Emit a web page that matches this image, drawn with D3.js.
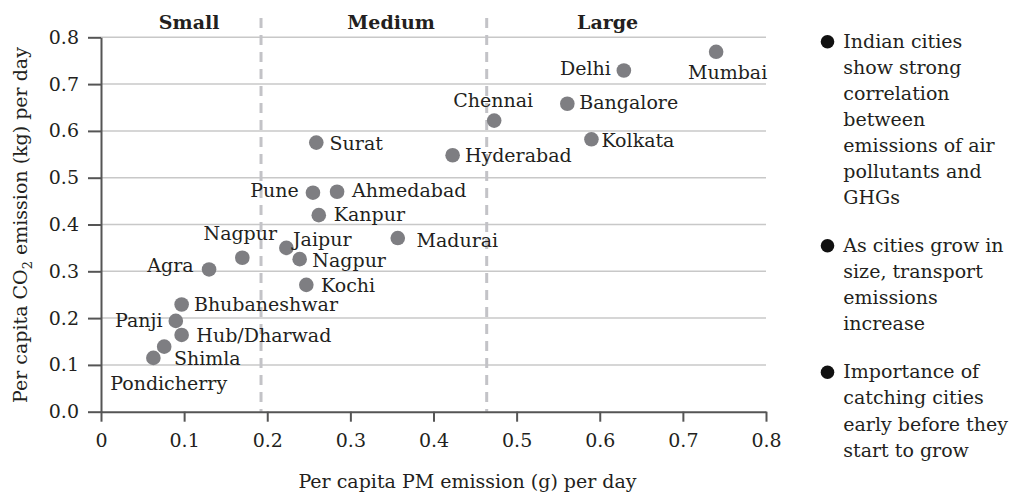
<!DOCTYPE html>
<html><head><meta charset="utf-8">
<script src="https://cdn.jsdelivr.net/npm/d3@7"></script>
<style>
html,body{margin:0;padding:0;background:#fff;}
svg{display:block;font-family:"DejaVu Serif",serif;}
</style></head>
<body><svg id="c" width="1009" height="492"></svg>
<script>
// ---- data ----
const cities = ["Mumbai","Delhi","Bangalore","Chennai","Kolkata","Hyderabad","Surat","Pune","Ahmedabad","Kanpur","Madurai","Nagpur","Jaipur","Nagpur","Kochi","Agra","Bhubaneshwar","Panji","Hub/Dharwad","Shimla","Pondicherry"];
const pmEmission = [0.740,0.629,0.561,0.473,0.590,0.423,0.259,0.255,0.284,0.262,0.357,0.170,0.223,0.239,0.247,0.130,0.097,0.090,0.097,0.076,0.063];
const co2Emission = [0.769,0.729,0.658,0.622,0.582,0.548,0.575,0.468,0.470,0.420,0.371,0.329,0.350,0.326,0.271,0.304,0.229,0.194,0.164,0.139,0.115];
const xTicks = [0,0.1,0.2,0.3,0.4,0.5,0.6,0.7,0.8];
const xTickLabels = ["0","0.1","0.2","0.3","0.4","0.5","0.6","0.7","0.8"];
const yTicks = [0,0.1,0.2,0.3,0.4,0.5,0.6,0.7,0.8];
const yTickLabels = ["0.0","0.1","0.2","0.3","0.4","0.5","0.6","0.7","0.8"];
const sizeClasses = ["Small","Medium","Large"];
const sizeBoundaries = [0.1925,0.464];
const bullets = [
  ["Indian cities","show strong","correlation","between","emissions of air","pollutants and","GHGs"],
  ["As cities grow in","size, transport","emissions","increase"],
  ["Importance of","catching cities","early before they","start to grow"]
];

// ---- layout (not data) ----
const labelLayout = [
  ["middle",11.5,27],["end",-13,4.5],["start",12,5.3],["middle",-1,-13.4],["start",10,7.4],
  ["start",12.3,6.4],["start",13.3,7.3],["end",-14.3,4],["start",15,5],["start",15,5.7],
  ["start",18.7,8.7],["middle",-2,-18],["start",6.6,-1.7],["start",12.7,7.4],["start",14.7,6.7],
  ["end",-15.4,2.4],["start",12.3,6.3],["end",-13.3,6],["start",14.7,6.7],["start",9.7,18.3],
  ["middle",15.3,32.3]
];
const classLabelX = [0.106,0.349,0.6095];

const FS = 19;
const TXT = "#231f20";
const svg = d3.select("#c");
const x = d3.scaleLinear().domain([0,0.8]).range([101,766]);
const y = d3.scaleLinear().domain([0,0.8]).range([411.7,37.3]);

// gridlines
svg.append("g").selectAll("line").data(yTicks.filter(d=>d>0)).join("line")
  .attr("x1",x(0)).attr("x2",x(0.8)).attr("y1",d=>y(d)).attr("y2",d=>y(d))
  .attr("stroke","#c8c8c8").attr("stroke-width",1.5);

// dashed size boundaries
svg.append("g").selectAll("line").data(sizeBoundaries).join("line")
  .attr("x1",d=>x(d)).attr("x2",d=>x(d)).attr("y1",18).attr("y2",y(0))
  .attr("stroke","#c3c3c7").attr("stroke-width",3).attr("stroke-dasharray","10,7");

// axes
const xAxis = d3.axisBottom(x).tickValues(xTicks).tickFormat((d,i)=>xTickLabels[i]).tickSizeInner(10).tickSizeOuter(0).tickPadding(12);
const gx = svg.append("g").attr("transform",`translate(0,${y(0)})`).call(xAxis);
const yAxis = d3.axisLeft(y).tickValues(yTicks).tickFormat((d,i)=>yTickLabels[i]).tickSizeInner(13).tickSizeOuter(0).tickPadding(9);
const gy = svg.append("g").attr("transform",`translate(${x(0)},0)`).call(yAxis);
[gx,gy].forEach(g=>{
  g.select(".domain").attr("stroke","#555").attr("stroke-width",2);
  g.selectAll(".tick line").attr("stroke","#555").attr("stroke-width",2);
  g.selectAll(".tick text").attr("fill",TXT).style("font-family","DejaVu Serif").style("font-size",FS+"px");
});

// class labels
svg.append("g").selectAll("text").data(sizeClasses).join("text")
  .attr("x",(d,i)=>x(classLabelX[i])).attr("y",29).attr("text-anchor","middle")
  .attr("font-weight","bold").attr("font-size",FS).attr("fill",TXT).text(d=>d);

// points
const pts = cities.map((c,i)=>({c,px:pmEmission[i],co:co2Emission[i],l:labelLayout[i]}));
svg.append("g").selectAll("circle").data(pts).join("circle")
  .attr("cx",d=>x(d.px)).attr("cy",d=>y(d.co)).attr("r",7.3).attr("fill","#7e7e82");
svg.append("g").selectAll("text").data(pts).join("text")
  .attr("x",d=>x(d.px)+d.l[1]).attr("y",d=>y(d.co)+d.l[2]).attr("text-anchor",d=>d.l[0])
  .attr("font-size",FS).attr("fill",TXT).text(d=>d.c);

// axis titles
svg.append("text").attr("x",467.5).attr("y",488).attr("text-anchor","middle")
  .attr("font-size",FS).attr("fill",TXT).text("Per capita PM emission (g) per day");
const yt = svg.append("text").attr("transform","translate(27,225) rotate(-90)").attr("text-anchor","middle")
  .attr("font-size",FS).attr("fill",TXT);
yt.append("tspan").text("Per capita CO");
yt.append("tspan").attr("dy",5).attr("font-size",13).text("2");
yt.append("tspan").attr("dy",-5).text(" emission (kg) per day");

// bullets
const bulletStarts = [47.7,251.7,378.3];
const LH = 26.1;
const bg = svg.append("g");
bullets.forEach((lines,k)=>{
  bg.append("circle").attr("cx",827.5).attr("cy",bulletStarts[k]-6).attr("r",6.8).attr("fill","#111");
  const t = bg.append("text").attr("font-size",FS).attr("fill",TXT);
  lines.forEach((ln,j)=>t.append("tspan").attr("x",843.3).attr("y",bulletStarts[k]+j*LH).text(ln));
});
</script></body></html>
